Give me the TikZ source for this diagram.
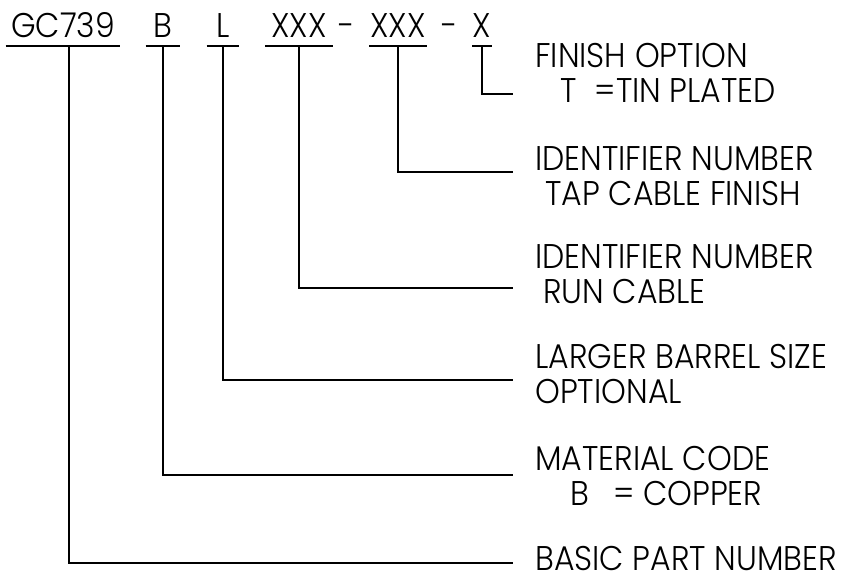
\documentclass[tikz,border=0pt]{standalone}
\usepackage{fontspec}
\setmainfont{Poppins Light}[FakeStretch=0.92]
\usepackage{tikz}
\usetikzlibrary{positioning, calc}
\newcommand{\partfont}{\fontsize{19.5}{19.4}\selectfont}
\tikzset{
  code/.style={anchor=base, font=\partfont, inner xsep=0pt,
    inner ysep=0.16cm, text depth=0pt},
  desc/.style={anchor=base west, font=\partfont, align=left,
    inner sep=0pt, text depth=0pt},
  rule/.style={line width=1pt, color=black}
}

\begin{document}
\begin{tikzpicture}[x=0.02cm, y=-0.02cm]
  \useasboundingbox (0,0) rectangle (844,581);

  % part number fields
  \node[code, minimum width=114*0.02cm] (gc) at (63,38) {GC739};
  \node[code, minimum width=34*0.02cm] (mat) at (163,38) {B};
  \node[code, minimum width=32*0.02cm] (lbs) at (223,38) {L};
  \node[code, minimum width=67*0.02cm] (run) at (299,38) {XXX};
  \node[code] (dash1) at (347,38) {-};
  \node[code, minimum width=57*0.02cm] (tap) at (398,38) {XXX};
  \node[code] (dash2) at (450,38) {-};
  \node[code, minimum width=19*0.02cm] (fin) at (482,38) {X};

  \foreach \n in {gc, mat, lbs, run, tap, fin}
    \draw[rule] (\n.south west) -- (\n.south east);

  % descriptions (base = last line)
  \node[desc] (finlbl) at (535,102) {FINISH OPTION\\\hspace*{0.5cm}T\hspace{0.36cm}=TIN PLATED};
  \node[desc] (taplbl) at (535,205) {IDENTIFIER NUMBER\\\hspace*{0.2cm}TAP CABLE FINISH};
  \node[desc] (runlbl) at (535,303) {IDENTIFIER NUMBER\\\hspace*{0.16cm}RUN CABLE};
  \node[desc] (lbslbl) at (535,403) {LARGER BARREL SIZE\\OPTIONAL};
  \node[desc] (matlbl) at (535,505) {MATERIAL CODE\\\hspace*{0.7cm}B\hspace{0.48cm}= COPPER};
  \node[desc] (gclbl) at (535,570) {BASIC PART NUMBER};

  % leader ends
  \coordinate (finend) at (513,94);
  \coordinate (tapend) at (513,172);
  \coordinate (runend) at (513,288);
  \coordinate (lbsend) at (513,380);
  \coordinate (matend) at (513,475);
  \coordinate (gcend) at (513,563);

  % leaders
  \draw[rule] (fin.south) |- (finend);
  \draw[rule] (tap.south) |- (tapend);
  \draw[rule] (run.south) |- (runend);
  \draw[rule] (lbs.south) |- (lbsend);
  \draw[rule] (mat.south) |- (matend);
  \draw[rule] ([xshift=0.12cm]gc.south) |- (gcend);
\end{tikzpicture}
\end{document}
